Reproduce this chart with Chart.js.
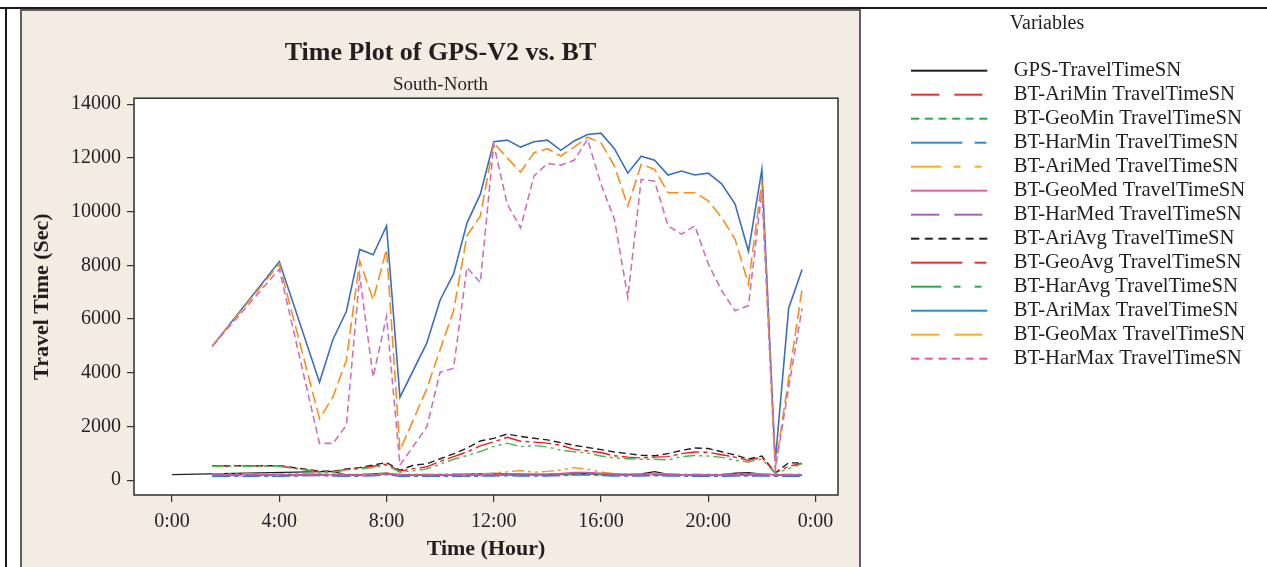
<!DOCTYPE html>
<html>
<head>
<meta charset="utf-8">
<script src="https://cdn.jsdelivr.net/npm/chart.js@4.4.1/dist/chart.umd.min.js"></script>
<style>
html,body{margin:0;padding:0;background:#ffffff;}
#wrap{width:1267px;height:567px;position:relative;overflow:hidden;}
canvas{display:block;}
</style>
</head>
<body>
<div id="wrap"><canvas id="c" width="1267" height="567"></canvas></div>
<script>
// ---------------- data ----------------
const chartTitle = 'Time Plot of GPS-V2 vs. BT';
const chartSubtitle = 'South-North';
const xAxisTitle = 'Time (Hour)';
const yAxisTitle = 'Travel Time (Sec)';
const legendTitle = 'Variables';

// time of day in hours
const times = [0, 1.5, 4, 5.5, 6, 6.5, 7, 7.5, 8, 8.5, 9, 9.5, 10, 10.5, 11, 11.5, 12, 12.5, 13, 13.5,
  14, 14.5, 15, 15.5, 16, 16.5, 17, 17.5, 18, 18.5, 19, 19.5, 20, 20.5, 21, 21.5, 22, 22.5, 23, 23.5];

const xTickValues = [0, 4, 8, 12, 16, 20, 24];
const xTickLabels = ['0:00', '4:00', '8:00', '12:00', '16:00', '20:00', '0:00'];
const yTickValues = [0, 2000, 4000, 6000, 8000, 10000, 12000, 14000];

const seriesNames = [
  'GPS-TravelTimeSN', 'BT-AriMin TravelTimeSN', 'BT-GeoMin TravelTimeSN', 'BT-HarMin TravelTimeSN',
  'BT-AriMed TravelTimeSN', 'BT-GeoMed TravelTimeSN', 'BT-HarMed TravelTimeSN', 'BT-AriAvg TravelTimeSN',
  'BT-GeoAvg TravelTimeSN', 'BT-HarAvg TravelTimeSN', 'BT-AriMax TravelTimeSN', 'BT-GeoMax TravelTimeSN',
  'BT-HarMax TravelTimeSN'
];

const gpsTravelTime = [210, null, null, null, 330, 200, 210, 230, 260, 200, 200, 210, 200, 210, 220, 230, 250, 230, 220, 210,
  210, 220, 230, 240, 230, 220, 210, 230, 320, 220, 210, 200, 200, 210, 260, 280, 220, 210, 210, 200];
const ariMin = [null, 190, 190, 210, 200, 190, 190, 200, 250, 190, 190, 190, 190, 190, 190, 190, 200, 210, 200, 200,
  200, 210, 230, 240, 220, 200, 200, 200, 210, 200, 190, 190, 190, 190, 200, 200, 200, 190, 190, 190];
const geoMin = [null, 170, 170, 190, 180, 170, 170, 180, 230, 170, 170, 170, 170, 170, 170, 170, 180, 190, 180, 180,
  180, 190, 210, 220, 200, 180, 180, 180, 190, 180, 170, 170, 170, 170, 180, 180, 180, 170, 170, 170];
const harMin = [null, 150, 150, 170, 160, 150, 150, 160, 210, 150, 150, 150, 150, 150, 150, 150, 160, 170, 160, 160,
  160, 170, 190, 200, 180, 160, 160, 160, 170, 160, 150, 150, 150, 150, 160, 160, 160, 150, 150, 150];
const ariMed = [null, 230, 230, 240, 230, 220, 220, 230, 280, 220, 220, 220, 230, 240, 230, 240, 260, 310, 360, 300,
  330, 380, 470, 410, 300, 250, 230, 230, 240, 230, 220, 220, 220, 220, 230, 230, 230, 210, 220, 220];
const geoMed = [null, 210, 210, 220, 210, 200, 200, 210, 260, 200, 200, 200, 200, 210, 210, 210, 220, 230, 230, 230,
  230, 250, 290, 290, 260, 230, 220, 220, 230, 220, 210, 210, 210, 210, 220, 220, 220, 200, 210, 210];
const harMed = [null, 190, 190, 200, 190, 180, 180, 190, 240, 180, 180, 180, 180, 190, 190, 190, 200, 210, 210, 210,
  210, 230, 270, 270, 240, 210, 200, 200, 210, 200, 190, 190, 190, 190, 200, 200, 200, 180, 190, 190];
const ariAvg = [null, 540, 540, 340, 330, 420, 470, 560, 660, 370, 560, 610, 800, 980, 1200, 1460, 1560, 1720, 1630, 1560,
  1500, 1400, 1300, 1220, 1140, 1050, 990, 930, 910, 990, 1110, 1200, 1180, 1060, 940, 790, 900, 280, 650, 640];
const geoAvg = [null, 530, 530, 320, 320, 400, 450, 520, 600, 340, 430, 500, 700, 880, 1050, 1280, 1430, 1600, 1450, 1420,
  1380, 1300, 1150, 1090, 1030, 910, 860, 830, 860, 880, 990, 1050, 1040, 950, 860, 740, 860, 270, 520, 630];
const harAvg = [null, 520, 520, 300, 300, 380, 420, 470, 560, 300, 350, 420, 600, 780, 920, 1070, 1260, 1380, 1250, 1290,
  1240, 1120, 1060, 1010, 900, 830, 800, 780, 780, 760, 880, 920, 900, 850, 740, 680, 790, 250, 430, 620];
const ariMax = [null, 4990, 8140, 3650, 5240, 6280, 8590, 8390, 9470, 3090, null, 5100, 6710, 7680, 9570, 10650, 12600, 12660, 12400, 12600,
  12660, 12280, 12630, 12870, 12920, 12340, 11430, 12060, 11910, 11360, 11510, 11360, 11430, 11030, 10280, 8520, 11570, 700, 6400, 7840];
const geoMax = [null, 4990, 8050, 2290, 3100, 4460, 8170, 6710, 8600, 1110, null, 3400, 4870, 6310, 9100, 9840, 12560, 12000, 11470, 12190,
  12340, 12070, 12400, 12770, 12560, 11700, 10210, 11760, 11570, 10700, 10700, 10700, 10400, 9780, 8970, 7300, 11140, 450, 3800, 7120];
const harMax = [null, 4990, 7860, 1370, 1370, 2040, 7610, 3840, 6100, 560, null, 1980, 4020, 4170, 7920, 7360, 12500, 10280, 9390, 11330,
  11790, 11730, 11910, 12690, 11020, 9720, 6810, 11200, 11130, 9470, 9160, 9470, 8050, 7060, 6310, 6500, 10770, 400, 3450, 6400];

const seriesValues = [gpsTravelTime, ariMin, geoMin, harMin, ariMed, geoMed, harMed, ariAvg, geoAvg, harAvg, ariMax, geoMax, harMax];

// ---------------- styles ----------------
const LONG = [12, 5], SHORT = [7, 4], DASHDOT = [18, 4, 4, 4], DASHDOTDOT = [12, 4, 3, 4, 3, 4];
const plotColors = ['#231f20', '#ed1c24', '#3cb44b', '#2a7fc9', '#f7941d', '#e9559f', '#9b5fb5', '#231f20',
  '#ed1c24', '#4db848', '#3a6fbf', '#f68e1e', '#cc72bd'];
const plotDashes = [[], LONG, SHORT, DASHDOT, DASHDOTDOT, [], LONG, SHORT, DASHDOT, DASHDOTDOT, [], LONG, SHORT];
const plotWidths = [1.4, 1.4, 1.4, 1.4, 1.4, 1.4, 1.4, 1.4, 1.4, 1.4, 1.6, 1.6, 1.6];

const L_LONG = [28, 15], L_SHORT = [8, 5.6], L_DD = [51, 12.3, 11.7, 100], L_DDD = [30, 12.3, 7, 14, 7, 100];
const legendColors = ['#231f20', '#ee2a2f', '#1fae4b', '#2a8bd0', '#fbad18', '#ef5ba1', '#a35fb9', '#231f20',
  '#ee2a2f', '#1fae4b', '#2a8bd0', '#fbad18', '#ef4f9b'];
const legendDashes = [[], L_LONG, L_SHORT, L_DD, L_DDD, [], L_LONG, L_SHORT, L_DD, L_DDD, [], L_LONG, L_SHORT];

const FONT = "'Liberation Serif', 'Times New Roman', serif";
const TEXT = '#231f20';

function legendImage(color, dash) {
  const c = document.createElement('canvas');
  c.width = 92; c.height = 6;
  const g = c.getContext('2d');
  g.strokeStyle = color; g.lineWidth = 2; g.setLineDash(dash);
  g.beginPath(); g.moveTo(0, 3); g.lineTo(76, 3); g.stroke();
  return c;
}
const legendImgs = legendColors.map((c, i) => legendImage(c, legendDashes[i]));

const datasets = seriesNames.map((name, i) => ({
  label: name,
  data: times.map((t, k) => ({x: t, y: seriesValues[i][k]})),
  borderColor: plotColors[i],
  backgroundColor: plotColors[i],
  borderDash: plotDashes[i],
  borderWidth: plotWidths[i],
  pointRadius: 0,
  pointHoverRadius: 0,
  tension: 0,
  fill: false,
  spanGaps: true,
  order: seriesNames.length - 1 - i
}));

// ---------------- layout plugin ----------------
const PANEL = {left: 21, top: 10, right: 860};
const layoutPlugin = {
  id: 'layoutPlugin',
  beforeLayout(chart) {
    const lg = chart.legend;
    if (lg && !lg.__patched) {
      const fit = lg.fit;
      lg.fit = function () { fit.call(this); this.width = 429; };
      lg.__patched = true;
    }
  },
  afterLayout(chart) {
    const lg = chart.legend;
    if (lg) { lg.left = 908; lg.right = 1267; lg.width = 278; }
    chart.boxes.forEach(b => {
      if (b.options && (b.options.text === chartTitle || b.options.text === chartSubtitle) && b.isHorizontal && b.isHorizontal()) {
        b.left = PANEL.left; b.right = PANEL.right; b.width = PANEL.right - PANEL.left;
      }
    });
  },
  beforeDraw(chart) {
    const ctx = chart.ctx, W = chart.width, H = chart.height, a = chart.chartArea;
    ctx.save();
    ctx.fillStyle = '#ffffff'; ctx.fillRect(0, 0, W, H);
    // outer frame lines
    ctx.strokeStyle = '#1a1a1a'; ctx.lineWidth = 2;
    ctx.beginPath(); ctx.moveTo(0, 8); ctx.lineTo(W, 8); ctx.moveTo(6, 8); ctx.lineTo(6, H); ctx.stroke();
    // panel
    ctx.fillStyle = '#f2ece2';
    ctx.fillRect(PANEL.left, PANEL.top, PANEL.right - PANEL.left, H - PANEL.top + 5);
    ctx.strokeStyle = '#5e5e5e'; ctx.lineWidth = 2;
    ctx.strokeRect(PANEL.left, PANEL.top, PANEL.right - PANEL.left, H - PANEL.top + 10);
    // plot area
    ctx.fillStyle = '#ffffff';
    ctx.fillRect(a.left, a.top, a.right - a.left, a.bottom - a.top);
    ctx.restore();
  },
  afterDatasetsDraw(chart) {
    const ctx = chart.ctx, a = chart.chartArea;
    ctx.save();
    ctx.strokeStyle = '#3a3a3a'; ctx.lineWidth = 1.6;
    ctx.strokeRect(a.left, a.top, a.right - a.left, a.bottom - a.top);
    ctx.restore();
  }
};

Chart.defaults.font.family = FONT;
Chart.defaults.color = TEXT;

new Chart(document.getElementById('c'), {
  type: 'line',
  data: {datasets},
  plugins: [layoutPlugin],
  options: {
    responsive: false,
    animation: false,
    events: [],
    layout: {padding: {left: 21, right: 0, top: 0, bottom: 0}},
    plugins: {
      title: {
        display: true, text: chartTitle, color: TEXT,
        font: {family: FONT, size: 26, weight: 'bold'},
        padding: {top: 38, bottom: 0}
      },
      subtitle: {
        display: true, text: chartSubtitle, color: TEXT,
        font: {family: FONT, size: 19, weight: 'normal'},
        padding: {top: 4, bottom: 2.2}
      },
      legend: {
        display: true, position: 'right', align: 'start',
        title: {display: true, text: legendTitle, color: TEXT, position: 'center',
          font: {family: FONT, size: 20}, padding: {top: 14, bottom: 19}},
        labels: {
          color: TEXT, font: {family: FONT, size: 20.7}, padding: 3.3,
          usePointStyle: true, pointStyleWidth: 92,
          generateLabels(chart) {
            const items = Chart.defaults.plugins.legend.labels.generateLabels(chart);
            items.forEach(it => { it.pointStyle = legendImgs[it.datasetIndex]; it.fontColor = TEXT; });
            return items;
          },
          sort: (a, b) => a.datasetIndex - b.datasetIndex
        }
      },
      tooltip: {enabled: false}
    },
    scales: {
      x: {
        type: 'linear', min: -1.42, max: 24.84,
        afterBuildTicks(scale) { scale.ticks = xTickValues.map(v => ({value: v})); },
        afterFit(scale) { scale.height = 72; },
        ticks: {
          color: TEXT, font: {family: FONT, size: 20}, padding: 8, maxRotation: 0, autoSkip: false,
          callback: (v, i) => xTickLabels[i]
        },
        grid: {display: true, drawOnChartArea: false, drawTicks: true, tickLength: 7, color: '#333333', lineWidth: 1.2},
        border: {display: false},
        title: {display: true, text: xAxisTitle, color: TEXT, font: {family: FONT, size: 22, weight: 'bold'},
          padding: {top: 2, bottom: 4}}
      },
      y: {
        type: 'linear', min: -550, max: 14220,
        afterBuildTicks(scale) { scale.ticks = yTickValues.map(v => ({value: v})); },
        afterFit(scale) { scale.width = 113; },
        ticks: {
          color: TEXT, font: {family: FONT, size: 20}, padding: 6, autoSkip: false,
          callback: v => String(v)
        },
        grid: {display: true, drawOnChartArea: false, drawTicks: true, tickLength: 7, color: '#333333', lineWidth: 1.2},
        border: {display: false},
        title: {display: true, text: yAxisTitle, color: TEXT, font: {family: FONT, size: 22, weight: 'bold'},
          padding: {top: 7.8, bottom: 4}}
      }
    }
  }
});
</script>
</body>
</html>
